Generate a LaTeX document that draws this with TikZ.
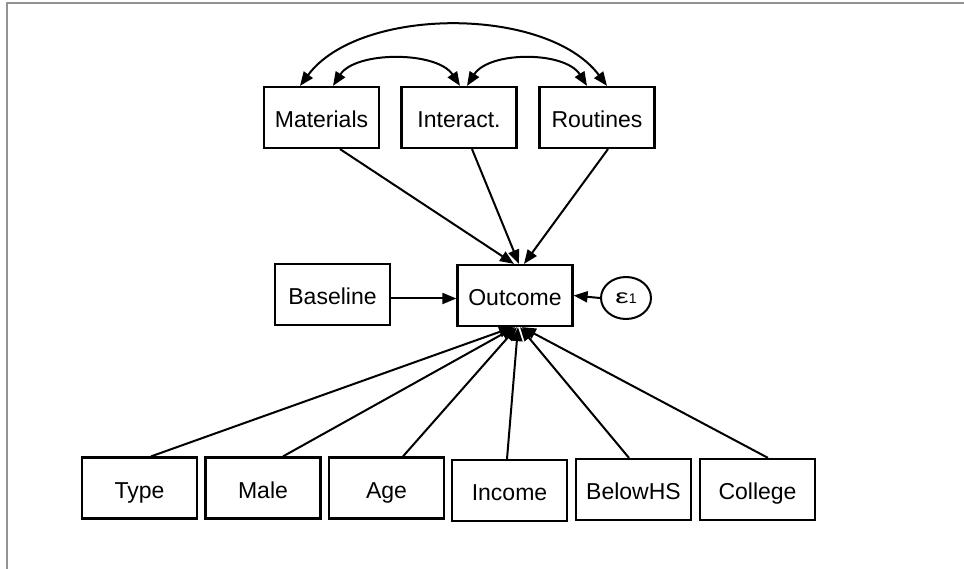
\documentclass[tikz,border=0pt]{standalone}
\usepackage{fontspec}
\setmainfont{Liberation Sans}
\usetikzlibrary{arrows.meta,calc,shapes.geometric}
\tikzset{
  varbox/.style={draw=black, line width=2.2pt, minimum width=115pt, minimum height=61pt, inner sep=0pt, text height=20pt, text depth=0pt, font=\fontsize{23}{26}\selectfont},
  errnode/.style={draw=black, line width=2pt, ellipse, minimum width=50pt, minimum height=42pt, inner sep=0pt},
  path/.style={draw=black, line width=2pt, -{Triangle[length=14pt,width=11pt]}},
  cov/.style={draw=black, line width=2pt, {Triangle[length=14pt,width=11pt]}-{Triangle[length=14pt,width=11pt]}},
}
\begin{document}
\begin{tikzpicture}[x=1pt,y=-1pt]
\useasboundingbox (0,0) rectangle (964,569);
\fill[white] (0,0) rectangle (964,569);
\draw[gray!85, line width=1.2pt] (7,569) -- (7,3) -- (964,3);

\node[varbox] (mat) at (321.5,117.5) {Materials};
\node[varbox] (int) at (459,117.5) {Interact.};
\node[varbox] (rou) at (597,117.5) {Routines};
\node[varbox] (base) at (332.5,294.5) {Baseline};
\node[varbox] (out) at (515,295.5) {Outcome};
\node[errnode] (eps) at (626,298) {\scalebox{1.5}[1]{\fontsize{20}{20}\selectfont ε}{\fontsize{14}{14}\selectfont 1}};

\node[varbox] (type) at (139.5,488) {Type};
\node[varbox] (male) at (263,488) {Male};
\node[varbox] (age) at (386.5,488) {Age};
\node[varbox] (inc) at (509.5,490.5) {Income};
\node[varbox] (bhs) at (633.5,489.5) {BelowHS};
\node[varbox] (col) at (757.5,489.5) {College};

% covariances
\draw[cov] ($(mat.north)+(-21.5,0)$) .. controls ($(mat.north)+(38,-80)$) and ($(rou.north)+(-50,-80)$) .. ($(rou.north)+(10,0)$);
\draw[cov] ($(mat.north)+(11.5,0)$) .. controls ($(mat.north)+(34,-35)$) and ($(int.north)+(-22,-35)$) .. ($(int.north)+(1,0)$);
\draw[cov] ($(int.north)+(8,0)$) .. controls ($(int.north)+(30,-35)$) and ($(rou.north)+(-32,-35)$) .. ($(rou.north)+(-10,0)$);

% paths into outcome from top
\draw[path] ($(mat.south)+(18.5,0)$) -- ($(out.north)+(-1,0)$);
\draw[path] ($(int.south)+(13,0)$) -- ($(out.north)+(4,0)$);
\draw[path] ($(rou.south)+(11,0)$) -- ($(out.north)+(9,0)$);

% baseline and error
\draw[path] ($(base.east)+(0,4)$) -- ($(out.west)+(0,3)$);
\draw[path] (eps.west) -- (out.east);

% paths from bottom covariates
\draw[path] ($(type.north)+(11.5,0)$) -- ($(out.south)+(-2,0)$);
\draw[path] ($(male.north)+(20,0)$) -- ($(out.south)+(0,0)$);
\draw[path] ($(age.north)+(16.5,0)$) -- ($(out.south)+(2,0)$);
\draw[path] ($(inc.north)+(-2.5,0)$) -- ($(out.south)+(3,0)$);
\draw[path] ($(bhs.north)+(-4.5,0)$) -- ($(out.south)+(5,0)$);
\draw[path] ($(col.north)+(10.5,0)$) -- ($(out.south)+(7,0)$);
\end{tikzpicture}
\end{document}
